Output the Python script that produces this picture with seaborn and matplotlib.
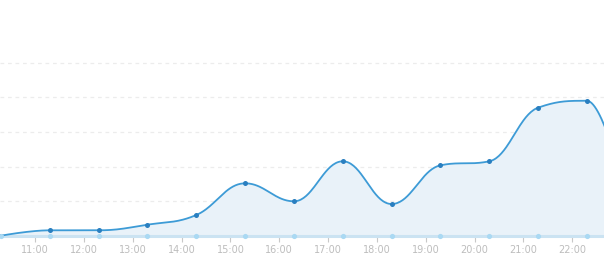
import numpy as np
import pandas as pd
import matplotlib
matplotlib.use("Agg")
import matplotlib.pyplot as plt
import seaborn as sns

# ---- data ----
times = ["10:18", "11:18", "12:18", "13:18", "14:18", "15:18", "16:18",
         "17:18", "18:18", "19:18", "20:18", "21:18", "22:18", "23:18"]
values = [0, 7.8, 7.8, 15.9, 29.9, 75.7, 49.7, 107.5, 45.8, 101.7, 107.5, 185, 195, 0]
baseline_values = [0] * len(times)
tick_hours = list(range(11, 23))
tick_labels = [f"{h}:00" for h in tick_hours]
grid_levels = [50, 100, 150, 200, 250]


def to_hours(t):
    h, m = t.split(":")
    return int(h) + int(m) / 60.0


df = pd.DataFrame({"hour": [to_hours(t) for t in times], "value": values,
                   "base": baseline_values})


def highcharts_spline(x, y, smoothing=1.5, steps=40):
    """Smooth rendering of the line (Highcharts-like spline)."""
    n = len(x)
    denom = smoothing + 1
    lc = [(x[i], y[i]) for i in range(n)]
    rc = [(x[i], y[i]) for i in range(n)]
    for i in range(1, n - 1):
        lx, ly = x[i - 1], y[i - 1]
        nx, ny = x[i + 1], y[i + 1]
        px, py = x[i], y[i]
        lcx = (smoothing * px + lx) / denom
        lcy = (smoothing * py + ly) / denom
        rcx = (smoothing * px + nx) / denom
        rcy = (smoothing * py + ny) / denom
        corr = ((rcy - lcy) * (rcx - px)) / (rcx - lcx) + py - rcy
        lcy += corr
        rcy += corr
        if lcy > ly and lcy > py:
            lcy = max(ly, py); rcy = 2 * py - lcy
        elif lcy < ly and lcy < py:
            lcy = min(ly, py); rcy = 2 * py - lcy
        if rcy > ny and rcy > py:
            rcy = max(ny, py); lcy = 2 * py - rcy
        elif rcy < ny and rcy < py:
            rcy = min(ny, py); lcy = 2 * py - rcy
        lc[i] = (lcx, lcy)
        rc[i] = (rcx, rcy)
    xs, ys = [], []
    t = np.linspace(0, 1, steps)
    for i in range(n - 1):
        p0 = np.array([x[i], y[i]]); p1 = np.array(rc[i])
        p2 = np.array(lc[i + 1]); p3 = np.array([x[i + 1], y[i + 1]])
        pts = ((1 - t)[:, None] ** 3 * p0 + 3 * ((1 - t) ** 2 * t)[:, None] * p1
               + 3 * ((1 - t) * t ** 2)[:, None] * p2 + (t ** 3)[:, None] * p3)
        if i > 0:
            pts = pts[1:]
        xs.extend(pts[:, 0]); ys.extend(pts[:, 1])
    return np.array(xs), np.array(ys)


sns.set_theme(style="white")
fig = plt.figure(figsize=(6.04, 2.70), dpi=100)
ax = fig.add_axes([0, 34.3 / 270, 1, 235.7 / 270])

sx, sy = highcharts_spline(df["hour"].tolist(), df["value"].tolist())
curve = pd.DataFrame({"hour": sx, "value": sy})

ax.fill_between(curve["hour"], 0, curve["value"], color="#e9f2f9", lw=0, zorder=1)
for g in grid_levels:
    ax.axhline(g, color="#ececec", lw=0.9, ls=(0, (3, 3)), zorder=0)

# main series
sns.lineplot(data=curve, x="hour", y="value", ax=ax, color="#3d9bd6", lw=1.3,
             zorder=4, estimator=None, sort=False, legend=False)
sns.scatterplot(data=df, x="hour", y="value", ax=ax, color="#2a7fc0", s=13,
                linewidth=0, zorder=5, legend=False)

# baseline series (drawn unclipped along the axis bottom)
n_before = len(ax.lines)
sns.lineplot(data=df, x="hour", y="base", ax=ax, color="#cbe3f2", lw=2.2,
             estimator=None, sort=False, legend=False)
for ln in ax.lines[n_before:]:
    ln.set_clip_on(False)
    ln.set_zorder(3)
n_coll = len(ax.collections)
sns.scatterplot(data=df, x="hour", y="base", ax=ax, color="#aad9f3", s=14,
                linewidth=0, legend=False)
for c in ax.collections[n_coll:]:
    c.set_clip_on(False)
    c.set_zorder(6)

ax.set_xlim(to_hours("10:18") - 0.02, to_hours("22:39"))
ax.set_ylim(0, 235.7 / 34.6 * 50)
ax.set_xticks(tick_hours)
ax.set_xticklabels(tick_labels)
ax.set_yticks([])
ax.set_xlabel("")
ax.set_ylabel("")
ax.tick_params(axis="x", length=4, width=0.8, color="#c8c8c8", direction="out",
               labelsize=7, labelcolor="#bdbdbd", pad=3, bottom=True)
for s in ax.spines.values():
    s.set_visible(False)
ax.set_facecolor("none")

fig.savefig("out.png", dpi=100)
